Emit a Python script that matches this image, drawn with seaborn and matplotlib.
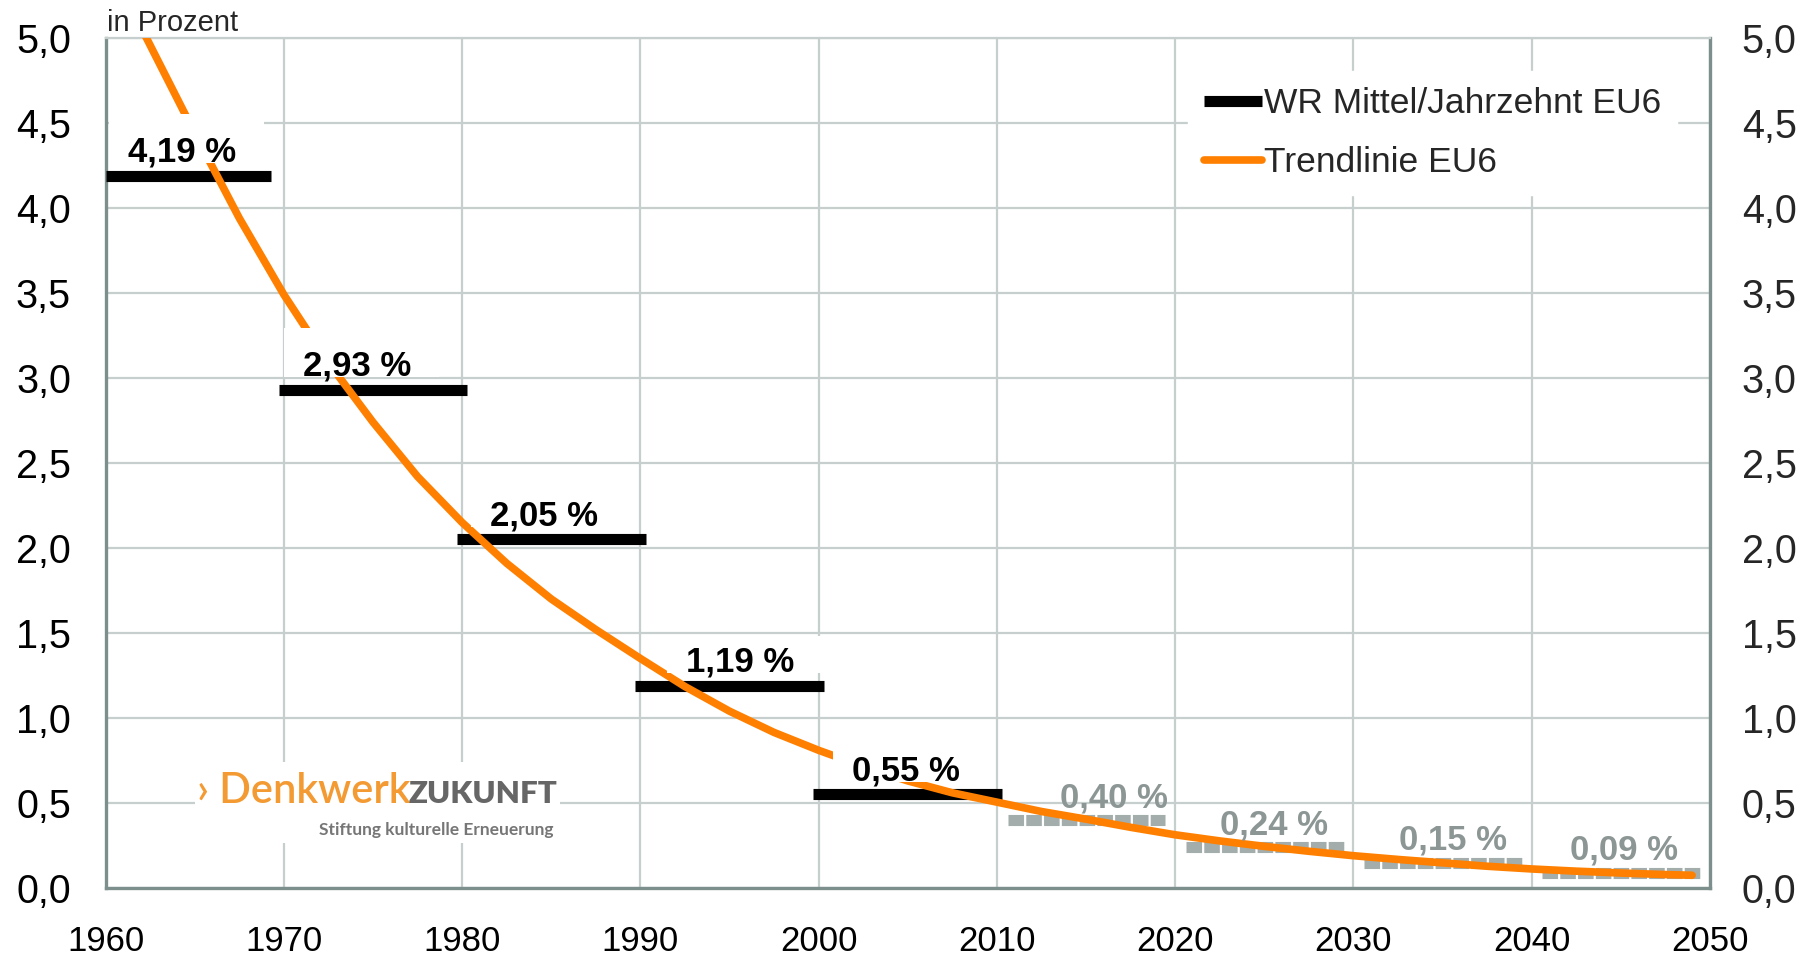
import matplotlib
matplotlib.use("Agg")
import matplotlib.pyplot as plt
import seaborn as sns
from matplotlib.lines import Line2D
from matplotlib.patches import Rectangle

# decade means (historic, black) and forecast (grey)
decades = [1960, 1970, 1980, 1990, 2000]
decade_means = [4.19, 2.93, 2.05, 1.19, 0.55]
decade_labels = ["4,19 %", "2,93 %", "2,05 %", "1,19 %", "0,55 %"]

fc_decades = [2010, 2020, 2030, 2040]
fc_means = [0.40, 0.24, 0.15, 0.09]
fc_labels = ["0,40 %", "0,24 %", "0,15 %", "0,09 %"]

# trend line
trend_years = [1962, 1965, 1967.5, 1970, 1972.5, 1975, 1977.5, 1980, 1982.5,
               1985, 1987.5, 1990, 1992.5, 1995, 1997.5, 2000, 2002.5, 2005,
               2007.5, 2010, 2012.5, 2015, 2017.5, 2020, 2022.5, 2025, 2027.5,
               2030, 2032.5, 2035, 2037.5, 2040, 2042.5, 2045, 2047.5, 2049]
trend_vals = [5.06, 4.44, 3.94, 3.49, 3.09, 2.74, 2.42, 2.15, 1.91,
              1.70, 1.52, 1.35, 1.185, 1.04, 0.915, 0.81, 0.715, 0.63,
              0.56, 0.505, 0.45, 0.405, 0.357, 0.313, 0.277, 0.245, 0.216,
              0.19, 0.168, 0.148, 0.128, 0.112, 0.099, 0.088, 0.079, 0.075]

y_ticks = [0, 0.5, 1, 1.5, 2, 2.5, 3, 3.5, 4, 4.5, 5]
x_ticks = [1960, 1970, 1980, 1990, 2000, 2010, 2020, 2030, 2040, 2050]

sns.set_theme(style="white")
plt.rcParams["font.family"] = ["Liberation Sans", "DejaVu Sans"]

ORANGE = "#ff8000"
GRID = "#c6cfcd"
SPINE = "#7d8f8c"
FCGREY = "#a3adab"
FCTEXT = "#8c9694"

fig = plt.figure(figsize=(18.15, 9.57), dpi=100)
ax = fig.add_axes([0.0582, 0.0721, 0.8839, 0.8882])

ax.set_xlim(1960, 2050)
ax.set_ylim(0, 5)
ax.set_xticks(x_ticks)
ax.set_yticks(y_ticks)
ax.set_xticklabels([str(x) for x in x_ticks])
ytl = [f"{v:.1f}".replace(".", ",") for v in y_ticks]
ax.set_yticklabels(ytl)
ax.tick_params(axis="both", length=0, colors="black")
ax.tick_params(axis="x", labelsize=25, pad=26.5)
ax.tick_params(axis="y", labelsize=28.5, pad=25)
ax.grid(True, color=GRID, lw=1.6)
ax.set_axisbelow(True)
for s in ["left", "bottom", "right"]:
    ax.spines[s].set_color(SPINE)
    ax.spines[s].set_linewidth(2.4)
ax.spines["top"].set_color(GRID)
ax.spines["top"].set_linewidth(1.6)

# historic decade bars (first one starts at the axis and is a bit shorter)
bar_start = [1960, 1969.7, 1979.7, 1989.7, 1999.7]
bar_end = [1969.3, 1980.3, 1990.3, 2000.3, 2010.3]
for v, x0, x1 in zip(decade_means, bar_start, bar_end):
    ax.hlines(v, x0, x1, color="black", lw=8, zorder=3)

# forecast bars (little grey squares)
for d, v in zip(fc_decades, fc_means):
    ax.hlines(v, d + 0.6, d + 9.45, color=FCGREY, lw=8, zorder=3,
              linestyles=(0, (1.4, 0.2)))

# trend line
sns.lineplot(x=trend_years, y=trend_vals, ax=ax, color=ORANGE, lw=5.5,
             zorder=4, solid_capstyle="round", solid_joinstyle="round")

# labels with white boxes that cut the trend line / grid like the original
label_x = [1964.3, 1974.1, 1984.6, 1995.6, 2004.9]
box_h = [0.29, 0.29, 0.29, 0.22, 0.29]
for v, t, cx, bh in zip(decade_means, decade_labels, label_x, box_h):
    ax.add_patch(Rectangle((cx - 4.1, v + 0.075), 8.7, bh, fc="white",
                           ec="none", zorder=4.5))
    ax.text(cx, v + 0.085, t, ha="center", va="baseline", fontsize=25,
            fontweight="bold", color="black", zorder=5)

fc_x = [2016.55, 2025.55, 2035.6, 2045.2]
for v, t, cx in zip(fc_means, fc_labels, fc_x):
    ax.text(cx, v + 0.075, t, ha="center", va="baseline", fontsize=25,
            fontweight="bold", color=FCTEXT, zorder=5)

ax.text(0.001, 1.008, "in Prozent", transform=ax.transAxes, fontsize=21,
        ha="left", va="baseline")

# right axis copy
ax2 = ax.twinx()
ax2.set_ylim(0, 5)
ax2.set_yticks(y_ticks)
ax2.set_yticklabels(ytl)
ax2.tick_params(axis="y", length=0, labelsize=28.5, pad=23)
ax2.grid(False)
for s in ax2.spines.values():
    s.set_visible(False)

# legend
handles = [Line2D([], [], color="black", lw=8, solid_capstyle="butt"),
           Line2D([], [], color=ORANGE, lw=5.5, solid_capstyle="round")]
leg = ax.legend(handles, ["WR Mittel/Jahrzehnt EU6", "Trendlinie EU6"],
                loc="upper left", bbox_to_anchor=(0.6746, 0.961),
                borderaxespad=0, fontsize=25.5, frameon=True, fancybox=False,
                framealpha=1, edgecolor="white", handlelength=1.65,
                handletextpad=0.05, labelspacing=0.74, borderpad=0.45)
leg.set_zorder(6)

# logo
ax.add_patch(Rectangle((1965.0, 0.265), 20.5, 0.475, fc="white", ec="none",
                       zorder=2))
ax.text(1965.1, 0.5, "› Denkwerk", fontsize=30, color="#f39a33",
        family=["Lato", "DejaVu Sans"], fontweight="semibold",
        ha="left", va="baseline", zorder=5)
ax.text(1977.0, 0.5, "ZUKUNFT", fontsize=22.5, color="#666666",
        family=["Lato", "DejaVu Sans"], fontweight="heavy",
        ha="left", va="baseline", zorder=5)
ax.text(1985.1, 0.31, "Stiftung kulturelle Erneuerung", fontsize=12.5,
        color="#767676", family=["Lato", "DejaVu Sans"], fontweight="bold",
        ha="right", va="baseline", zorder=5)

plt.savefig("out.png", dpi=100)
